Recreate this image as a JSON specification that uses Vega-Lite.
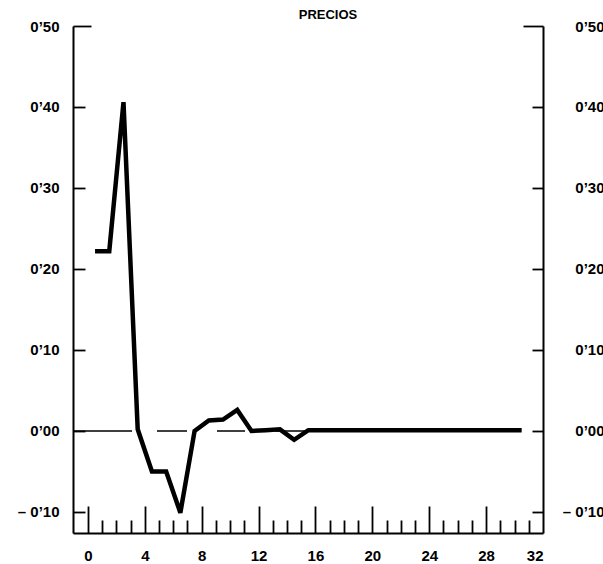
{
  "$schema": "https://vega.github.io/schema/vega-lite/v6.json",
  "width": 470,
  "height": 507,
  "autosize": {"type": "none"},
  "padding": {"left": 73, "top": 26, "right": 60, "bottom": 31},
  "background": "white",
  "title": {"text": "PRECIOS", "fontSize": 13, "fontWeight": "bold", "font": "Liberation Sans", "color": "black", "offset": -3, "dx": 20, "anchor": "middle"},
  "config": {
    "view": {"stroke": null},
    "axis": {"domainColor": "black", "tickColor": "black", "labelColor": "black", "labelFont": "Liberation Sans", "labelFontWeight": "bold", "labelFontSize": 15, "grid": false, "domainWidth": 2, "tickWidth": 1.8}
  },
  "resolve": {"axis": {"x": "independent", "y": "independent"}},
  "layer": [
    {
      "data": {"values": [
        {"t": 0.5, "v": 0.222}, {"t": 1.5, "v": 0.222}, {"t": 2.5, "v": 0.406}, {"t": 3.5, "v": 0.002},
        {"t": 4.5, "v": -0.05}, {"t": 5.5, "v": -0.05}, {"t": 6.5, "v": -0.101}, {"t": 7.5, "v": 0.0},
        {"t": 8.5, "v": 0.013}, {"t": 9.5, "v": 0.014}, {"t": 10.5, "v": 0.026}, {"t": 11.5, "v": 0.0},
        {"t": 12.5, "v": 0.001}, {"t": 13.5, "v": 0.002}, {"t": 14.5, "v": -0.011}, {"t": 15.5, "v": 0.001},
        {"t": 16.5, "v": 0.001}, {"t": 17.5, "v": 0.001}, {"t": 18.5, "v": 0.001}, {"t": 19.5, "v": 0.001},
        {"t": 20.5, "v": 0.001}, {"t": 21.5, "v": 0.001}, {"t": 22.5, "v": 0.001}, {"t": 23.5, "v": 0.001},
        {"t": 24.5, "v": 0.001}, {"t": 25.5, "v": 0.001}, {"t": 26.5, "v": 0.001}, {"t": 27.5, "v": 0.001},
        {"t": 28.5, "v": 0.001}, {"t": 29.5, "v": 0.001}, {"t": 30.5, "v": 0.001}
      ]},
      "mark": {"type": "line", "color": "black", "strokeWidth": 4.5, "strokeJoin": "miter"},
      "encoding": {
        "x": {"field": "t", "type": "quantitative", "scale": {"domain": [-1.05, 32], "nice": false, "zero": false},
          "axis": {"orient": "bottom", "values": [0, 4, 8, 12, 16, 20, 24, 28, 32], "ticks": false, "labelPadding": 15, "labelFontSize": 15, "labelFont": "Liberation Sans", "labelFontWeight": "bold", "domain": true, "title": null}},
        "y": {"field": "v", "type": "quantitative", "scale": {"domain": [-0.126, 0.5], "nice": false, "zero": false},
          "axis": {"orient": "left", "values": [-0.1, 0, 0.1, 0.2, 0.3, 0.4, 0.5],
            "tickSize": {"condition": {"test": "datum.value > 0.45", "value": -18}, "value": -12},
            "labelPadding": {"condition": {"test": "datum.value > 0.45", "value": 32}, "value": 26},
            "labelFontSize": 15, "labelFont": "Liberation Sans", "labelFontWeight": "bold", "title": null,
            "labelExpr": "(datum.value < -0.001 ? '– ' : '') + replace(format(abs(datum.value), '.2f'), '.', '’')"}}
      }
    },
    {
      "data": {"values": [{"x0": -1.05, "x1": 30, "y": 0}]},
      "mark": {"type": "rule", "color": "black", "strokeWidth": 1.5, "strokeDash": [59, 25, 30, 30, 28, 30]},
      "encoding": {
        "x": {"field": "x0", "type": "quantitative", "scale": {"domain": [-1.05, 32], "nice": false, "zero": false},
          "axis": {"orient": "bottom", "values": [0,1,2,3,4,5,6,7,8,9,10,11,12,13,14,15,16,17,18,19,20,21,22,23,24,25,26,27,28,29,30,31],
            "labels": false, "domain": false, "title": null,
            "tickSize": {"condition": {"test": "datum.value % 4 == 0", "value": -27}, "value": -13}}},
        "x2": {"field": "x1"},
        "y": {"field": "y", "type": "quantitative", "scale": {"domain": [-0.126, 0.5], "nice": false, "zero": false},
          "axis": {"orient": "right", "values": [-0.1, 0, 0.1, 0.2, 0.3, 0.4, 0.5],
            "tickSize": {"condition": {"test": "datum.value > 0.45", "value": -20}, "value": -11},
            "labelPadding": {"condition": {"test": "datum.value > 0.45", "value": 81}, "value": 72},
            "labelAlign": "right", "labelFontSize": 15, "labelFont": "Liberation Sans", "labelFontWeight": "bold", "title": null,
            "labelExpr": "(datum.value < -0.001 ? '– ' : '') + replace(format(abs(datum.value), '.2f'), '.', '’')"}}
      }
    }
  ]
}
